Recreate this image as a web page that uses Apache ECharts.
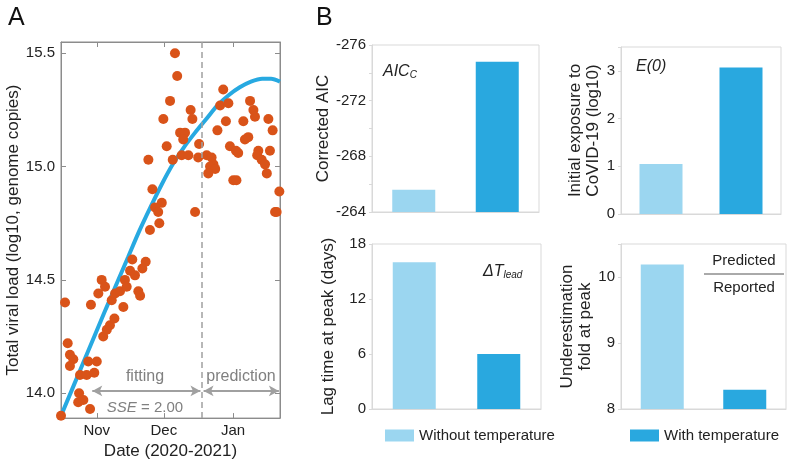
<!DOCTYPE html>
<html>
<head>
<meta charset="utf-8">
<script src="https://cdn.jsdelivr.net/npm/echarts@6/dist/echarts.min.js"></script>
<style>
  html, body { margin: 0; padding: 0; background: #fff; }
  #chart { width: 791px; height: 465px; }
</style>
</head>
<body>
<div id="chart"></div>
<script>
// Panel A: observed points [day since Oct 1 2020, log10 load]
const observedPoints = [
  [15.0, 13.90], [16.8, 14.40], [18.0, 14.22], [19.0, 14.17], [20.5, 14.15],
  [19.0, 14.12], [23.5, 14.08], [26.5, 14.08], [27.2, 14.14], [31.0, 14.14],
  [29.9, 14.09], [23.1, 14.00], [22.7, 13.96], [25.0, 13.97], [28.0, 13.93],
  [28.4, 14.39], [31.7, 14.44], [33.2, 14.50], [34.7, 14.47], [33.9, 14.25],
  [35.5, 14.28], [36.9, 14.30], [38.9, 14.33], [37.7, 14.41], [39.2, 14.44],
  [41.4, 14.45], [42.9, 14.38], [43.6, 14.50], [44.4, 14.47], [45.9, 14.54],
  [46.9, 14.59], [48.1, 14.52], [49.6, 14.45], [50.4, 14.43], [51.4, 14.55],
  [52.9, 14.58], [54.8, 14.72], [59.0, 14.75], [60.1, 14.84], [57.1, 14.82],
  [58.5, 14.80], [55.9, 14.90], [54.1, 15.03], [60.8, 15.21], [62.3, 15.09],
  [63.8, 15.29], [65.0, 15.03], [66.0, 15.50], [67.0, 15.40], [68.3, 15.15],
  [70.5, 15.15], [69.7, 15.12], [69.0, 15.05], [72.0, 15.05], [73.0, 15.25],
  [73.8, 15.21], [75.0, 14.80], [76.8, 15.10], [76.4, 15.04], [80.2, 15.05],
  [82.4, 15.04], [83.2, 15.01], [81.7, 15.00], [84.0, 14.99], [80.9, 14.97],
  [85.0, 15.16], [86.2, 15.27], [89.9, 15.28], [87.6, 15.34], [88.8, 15.20],
  [90.6, 15.09], [93.3, 15.07], [94.3, 15.06], [92.1, 14.94], [93.5, 14.94],
  [96.6, 15.20], [97.3, 15.12], [98.8, 15.13], [99.6, 15.29], [101.1, 15.25],
  [101.8, 15.22], [103.3, 15.07], [102.8, 15.05], [104.8, 15.03], [106.3, 15.01],
  [107.1, 14.97], [108.5, 15.07], [107.8, 15.21], [109.7, 15.16], [112.7, 14.89],
  [111.5, 14.80], [110.8, 14.80]
];
// model curve
const modelDays = [15, 25, 35, 45, 50, 55, 60, 65, 70, 75, 80, 85, 90, 95, 100, 105, 109, 113];
const modelValues = [13.90, 14.135, 14.37, 14.60, 14.715, 14.82, 14.92, 15.01, 15.085, 15.15, 15.21, 15.27, 15.315, 15.35, 15.375, 15.388, 15.388, 15.375];
const monthTickDays = [31, 61, 92];
const monthLabels = ['Nov', 'Dec', 'Jan'];
const viralTicks = [14.0, 14.5, 15.0, 15.5];
const fitEndDay = 78;

// Panel B: [without temperature, with temperature]
const aicValues = [-265.6, -274.8];
const exposureValues = [1.05, 3.07];
const lagValues = [16.0, 6.0];
const foldValues = [10.19, 8.29];

const lightBlue = '#9bd6f0';
const darkBlue = '#29a8df';
const font = 'Liberation Sans, Arial, sans-serif';

const chart = echarts.init(document.getElementById('chart'));

function barGrid(left, top, right, bottom) {
  return { left: left, top: top, right: right, bottom: bottom, show: true, borderColor: '#d9d9d9', borderWidth: 1, backgroundColor: 'transparent' };
}
function barXAxis(gridIndex) {
  return {
    type: 'category', gridIndex: gridIndex, data: ['without', 'with'],
    axisLine: { lineStyle: { color: '#d9d9d9' } }, axisTick: { show: false }, axisLabel: { show: false }
  };
}
// labels only on whole ticks, the top edge (3.5, 10.5) stays blank
function wholeOnly(v) { return Number.isInteger(v) ? String(v) : ''; }
function barYAxis(gridIndex, opts) {
  return Object.assign({
    type: 'value', gridIndex: gridIndex, nameLocation: 'middle', nameRotate: 90,
    nameTextStyle: { fontSize: 17, color: '#222', fontFamily: font, lineHeight: 18 },
    axisLine: { show: true, lineStyle: { color: '#d9d9d9' } },
    axisTick: { show: true, length: 3, lineStyle: { color: '#d9d9d9' } },
    axisLabel: { fontSize: 15, color: '#222', fontFamily: font, margin: 6, formatter: wholeOnly },
    splitLine: { show: false }
  }, opts);
}
function barPair(axisIndex, values) {
  return [
    { name: 'Without temperature', type: 'bar', xAxisIndex: axisIndex, yAxisIndex: axisIndex,
      data: [values[0], '-'], barWidth: 43, barGap: '-100%', itemStyle: { color: lightBlue }, silent: true },
    { name: 'With temperature', type: 'bar', xAxisIndex: axisIndex, yAxisIndex: axisIndex,
      data: ['-', values[1]], barWidth: 43, barGap: '-100%', itemStyle: { color: darkBlue }, silent: true }
  ];
}

const grayTxt = '#808080';
const option = {
  animation: false,
  textStyle: { fontFamily: font },
  grid: [
    { left: 61, top: 42, right: 511, bottom: 46, show: true, borderColor: '#8c8c8c', borderWidth: 1 },
    barGrid(372, 45, 252, 253),
    barGrid(621, 47, 10, 251),
    barGrid(372, 244, 250, 56),
    barGrid(621, 244, 5, 56)
  ],
  xAxis: [
    {
      type: 'value', gridIndex: 0, min: 15, max: 113,
      name: 'Date (2020-2021)', nameLocation: 'middle', nameGap: 24,
      nameTextStyle: { fontSize: 17, color: '#222' },
      axisLine: { lineStyle: { color: '#8c8c8c' } },
      axisTick: { inside: true, length: 5, customValues: monthTickDays, lineStyle: { color: '#8c8c8c' } },
      axisLabel: { customValues: monthTickDays, fontSize: 15, color: '#222', margin: 5,
        formatter: v => monthLabels[monthTickDays.indexOf(v)] },
      splitLine: { show: false }
    },
    {
      type: 'value', gridIndex: 0, position: 'top', min: 15, max: 113,
      axisLine: { lineStyle: { color: '#8c8c8c' } },
      axisTick: { inside: true, length: 5, customValues: monthTickDays, lineStyle: { color: '#8c8c8c' } },
      axisLabel: { show: false }, splitLine: { show: false }
    },
    barXAxis(1), barXAxis(2), barXAxis(3), barXAxis(4)
  ],
  yAxis: [
    {
      type: 'value', gridIndex: 0, min: 13.89, max: 15.55,
      name: 'Total viral load (log10, genome copies)', nameLocation: 'middle', nameGap: 39,
      nameTextStyle: { fontSize: 17, color: '#222' },
      axisLine: { show: true, lineStyle: { color: '#8c8c8c' } },
      axisTick: { show: true, inside: true, length: 5, customValues: viralTicks, lineStyle: { color: '#8c8c8c' } },
      axisLabel: { customValues: viralTicks, fontSize: 15, color: '#222', margin: 6, formatter: v => v.toFixed(1) },
      splitLine: { show: false }
    },
    {
      type: 'value', gridIndex: 0, position: 'right', min: 13.89, max: 15.55,
      axisLine: { show: true, lineStyle: { color: '#8c8c8c' } },
      axisTick: { show: true, inside: true, length: 5, customValues: viralTicks, lineStyle: { color: '#8c8c8c' } },
      axisLabel: { show: false }, splitLine: { show: false }
    },
    barYAxis(1, { name: 'Corrected AIC', nameGap: 40, inverse: true, min: -276, max: -264, interval: 2,
      axisLabel: { fontSize: 15, color: '#222', fontFamily: font, margin: 6, formatter: v => (v % 4 === 0 ? String(v) : '') } }),
    barYAxis(2, { name: 'Initial exposure to\nCoVID-19 (log10)', nameGap: 16, min: 0, max: 3.5, interval: 1 }),
    barYAxis(3, { name: 'Lag time at peak (days)', nameGap: 35, min: 0, max: 18, interval: 6 }),
    barYAxis(4, { name: 'Underestimation\nfold at peak', nameGap: 17, min: 8, max: 10.5, interval: 1 })
  ],
  legend: [
    { data: ['Without temperature'], left: 380, top: 423, itemWidth: 29, itemHeight: 12, itemGap: 6,
      icon: 'rect', selectedMode: false, textStyle: { fontSize: 15, color: '#222' } },
    { data: ['With temperature'], left: 625, top: 423, itemWidth: 29, itemHeight: 12, itemGap: 6,
      icon: 'rect', selectedMode: false, textStyle: { fontSize: 15, color: '#222' } }
  ],
  series: [
    {
      type: 'scatter', xAxisIndex: 0, yAxisIndex: 0, data: observedPoints,
      symbolSize: 10, itemStyle: { color: '#d95319', opacity: 1 }, silent: true, z: 3,
      markLine: {
        silent: true, symbol: 'none', label: { show: false },
        lineStyle: { color: '#a0a0a0', type: [6, 4], width: 1.5 },
        data: [{ xAxis: fitEndDay }]
      }
    },
    {
      type: 'line', xAxisIndex: 0, yAxisIndex: 0,
      data: modelDays.map((d, i) => [d, modelValues[i]]),
      smooth: 0.3, showSymbol: false, lineStyle: { color: '#27a9e1', width: 4 }, silent: true, z: 2,
      markLine: {
        silent: true, symbol: ['arrow', 'arrow'], symbolSize: [8, 10], label: { show: false },
        lineStyle: { color: '#a0a0a0', type: 'solid', width: 2 },
        data: [
          [{ coord: [29, 14.01] }, { coord: [77.4, 14.01] }],
          [{ coord: [78.8, 14.01] }, { coord: [112.5, 14.01] }]
        ]
      }
    },
    ...barPair(2, aicValues),
    ...barPair(3, exposureValues),
    ...barPair(4, lagValues),
    ...barPair(5, foldValues)
  ],
  graphic: [
    { type: 'text', left: 8, top: 6, style: { text: 'A', fontSize: 25, fill: '#111', fontFamily: font } },
    { type: 'text', left: 316, top: 6, style: { text: 'B', fontSize: 25, fill: '#111', fontFamily: font } },
    { type: 'text', x: 145, y: 377, style: { text: 'fitting', fontSize: 16, fill: grayTxt, fontFamily: font, align: 'center', verticalAlign: 'middle' } },
    { type: 'text', x: 241, y: 377, style: { text: 'prediction', fontSize: 16, fill: grayTxt, fontFamily: font, align: 'center', verticalAlign: 'middle' } },
    { type: 'text', x: 145, y: 408, style: {
      text: '{i|SSE} = 2.00', fontSize: 15, fill: grayTxt, fontFamily: font, align: 'center', verticalAlign: 'middle',
      rich: { i: { fontStyle: 'italic', fontSize: 15, fill: grayTxt, fontFamily: font } } } },
    { type: 'text', x: 383, y: 70, style: {
      text: '{a|AIC}{b|C}', fontFamily: font, verticalAlign: 'middle',
      rich: { a: { fontStyle: 'italic', fontSize: 16, fill: '#222', fontFamily: font, verticalAlign: 'bottom', lineHeight: 20 },
              b: { fontStyle: 'italic', fontSize: 10, fill: '#222', fontFamily: font, verticalAlign: 'bottom', lineHeight: 14 } } } },
    { type: 'text', x: 636, y: 67, style: { text: 'E(0)', fontStyle: 'italic', fontSize: 16, fill: '#222', fontFamily: font, verticalAlign: 'middle' } },
    { type: 'text', x: 483, y: 270, style: {
      text: '{a|ΔT}{b|lead}', fontFamily: font, verticalAlign: 'middle',
      rich: { a: { fontStyle: 'italic', fontSize: 16, fill: '#222', fontFamily: font, verticalAlign: 'bottom', lineHeight: 20 },
              b: { fontStyle: 'italic', fontSize: 10, fill: '#222', fontFamily: font, verticalAlign: 'bottom', lineHeight: 14 } } } },
    { type: 'text', x: 744, y: 261, style: { text: 'Predicted', fontSize: 15, fill: '#222', fontFamily: font, align: 'center', verticalAlign: 'middle' } },
    { type: 'line', shape: { x1: 704, y1: 274, x2: 784, y2: 274 }, style: { stroke: '#555', lineWidth: 1 } },
    { type: 'text', x: 744, y: 288, style: { text: 'Reported', fontSize: 15, fill: '#222', fontFamily: font, align: 'center', verticalAlign: 'middle' } }
  ]
};
chart.setOption(option);
</script>
</body>
</html>
